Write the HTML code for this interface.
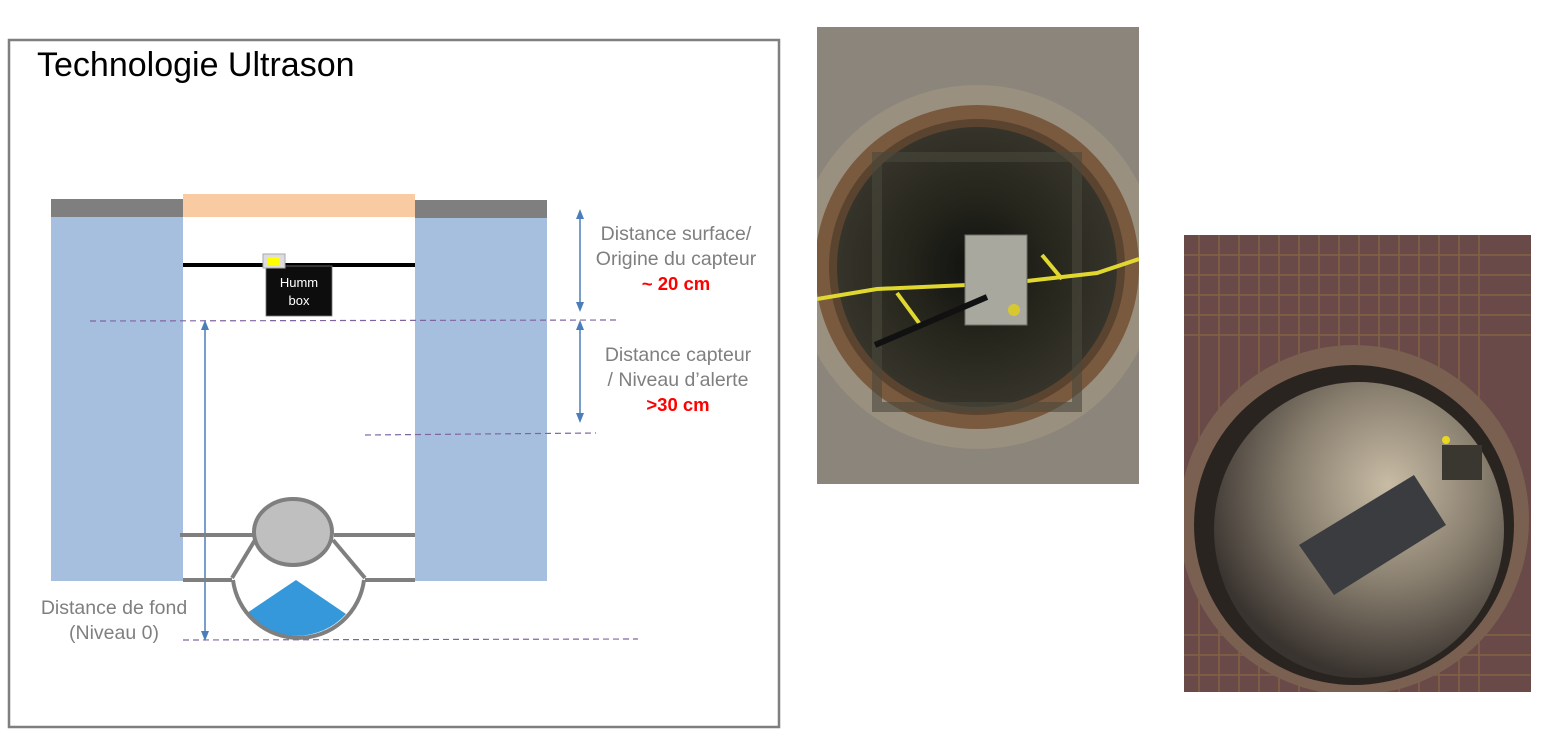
<!DOCTYPE html>
<html><head><meta charset="utf-8"><style>
html,body{margin:0;padding:0;background:#fff;width:1546px;height:744px;overflow:hidden}
svg{display:block}
text{font-family:"Liberation Sans",sans-serif}
</style></head><body>
<svg width="1546" height="744" viewBox="0 0 1546 744" xmlns="http://www.w3.org/2000/svg">
<defs>
<radialGradient id="hole1" cx="0.5" cy="0.5" r="0.5">
<stop offset="0" stop-color="#101010"/><stop offset="0.5" stop-color="#25251c"/><stop offset="1" stop-color="#36342a"/>
</radialGradient>
<radialGradient id="hole2" cx="0.6" cy="0.35" r="0.65">
<stop offset="0" stop-color="#c8bca5"/><stop offset="0.5" stop-color="#8a8070"/><stop offset="1" stop-color="#3a3430"/>
</radialGradient>
<marker id="ah" markerWidth="10" markerHeight="10" refX="5" refY="5" orient="auto-start-reverse" markerUnits="userSpaceOnUse"><path d="M0,1 L10,5 L0,9 z" fill="#4a7ebb"/></marker>
</defs>
<rect x="9" y="40" width="770" height="687" fill="#fff" stroke="#7f7f7f" stroke-width="2.5"/>
<text x="37" y="76" font-size="34" fill="#000">Technologie Ultrason</text>
<rect x="51" y="217" width="132" height="364" fill="#a7bfdf"/>
<rect x="415" y="217" width="132" height="364" fill="#a7bfdf"/>
<rect x="51" y="199" width="132" height="18" fill="#7f7f7f"/>
<rect x="415" y="200" width="132" height="18" fill="#7f7f7f"/>
<rect x="183" y="194" width="232" height="23" fill="#f9cba3"/>
<rect x="183" y="263" width="232" height="4" fill="#000"/>
<rect x="266" y="266" width="66" height="50" fill="#0d0d0d" stroke="#777" stroke-width="0.8"/>
<rect x="263" y="254" width="22" height="14" fill="#ddd" stroke="#aaa"/>
<rect x="268" y="257" width="12" height="8" fill="#ffff00"/>
<text x="299" y="287" font-size="13" fill="#fff" text-anchor="middle">Humm</text>
<text x="299" y="305" font-size="13" fill="#fff" text-anchor="middle">box</text>
<g stroke="#8064a2" stroke-width="1.2" stroke-dasharray="6,4" fill="none">
<line x1="90" y1="321" x2="617" y2="320"/>
<line x1="365" y1="435" x2="596" y2="433"/>
<line x1="183" y1="640" x2="638" y2="639"/>
</g>
<g stroke="#4a7ebb" stroke-width="1.5">
<line x1="205" y1="325" x2="205" y2="636" marker-start="url(#ah)" marker-end="url(#ah)"/>
<line x1="580" y1="214" x2="580" y2="307" marker-start="url(#ah)" marker-end="url(#ah)"/>
<line x1="580" y1="325" x2="580" y2="418" marker-start="url(#ah)" marker-end="url(#ah)"/>
</g>
<g stroke="#7f7f7f" stroke-width="4" fill="none">
<line x1="180" y1="535" x2="255" y2="535"/>
<line x1="334" y1="535" x2="415" y2="535"/>
<line x1="183" y1="580" x2="232" y2="580"/>
<line x1="365" y1="580" x2="415" y2="580"/>
<line x1="255" y1="540" x2="232" y2="578"/>
<line x1="333" y1="540" x2="365" y2="578"/>
</g>
<path d="M233,580 A66,66 0 0 0 364,580 Z" fill="#fff"/>
<path d="M296,580 L247,613 A66,66 0 0 0 346,614 Z" fill="#3498db"/>
<path d="M233,580 A66,66 0 0 0 364,580" stroke="#7f7f7f" stroke-width="4" fill="none"/>
<ellipse cx="293" cy="532" rx="39" ry="33" fill="#bfbfbf" stroke="#7f7f7f" stroke-width="4"/>
<g font-size="19.5" fill="#7f7f7f" text-anchor="middle">
<text x="676" y="240">Distance surface/</text>
<text x="676" y="265">Origine du capteur</text>
<text x="678" y="361">Distance capteur</text>
<text x="678" y="386">/ Niveau d’alerte</text>
<text x="114" y="614">Distance de fond</text>
<text x="114" y="639">(Niveau 0)</text>
</g>
<g font-size="18.5" fill="#ff0000" font-weight="bold" text-anchor="middle">
<text x="676" y="290">~ 20 cm</text>
<text x="678" y="411">&gt;30 cm</text>
</g>
<svg x="817" y="27" width="322" height="457" viewBox="0 0 322 457">
<rect width="322" height="457" fill="#8c857b"/>
<circle cx="160" cy="240" r="182" fill="#9a9080"/>
<circle cx="160" cy="240" r="162" fill="#7a5a3e"/>
<circle cx="160" cy="240" r="148" fill="#5a4430"/>
<circle cx="160" cy="240" r="140" fill="url(#hole1)"/>
<rect x="60" y="130" width="200" height="250" fill="none" stroke="#4a483c" stroke-width="10" opacity="0.6"/>
<path d="M0,272 L60,262 L150,258 L210,254 L280,246 L322,232" stroke="#e0d830" stroke-width="4" fill="none"/>
<path d="M80,266 L105,300 M225,228 L245,252" stroke="#e0d830" stroke-width="4" fill="none"/>
<rect x="148" y="208" width="62" height="90" fill="#a8a89e" stroke="#707068"/>
<line x1="170" y1="270" x2="58" y2="318" stroke="#111" stroke-width="6"/>
<circle cx="197" cy="283" r="6" fill="#d8c830"/>
</svg>
<svg x="1184" y="235" width="347" height="457" viewBox="0 0 347 457">
<rect width="347" height="457" fill="#6a4a48"/>
<g stroke="#a08040" stroke-width="1.5" opacity="0.45">
<path d="M0,20 H347 M0,40 H347 M0,60 H347 M0,80 H347 M0,100 H347 M0,400 H347 M0,420 H347 M0,440 H347"/>
<path d="M15,0 V457 M35,0 V457 M55,0 V457 M75,0 V457 M95,0 V457 M115,0 V457 M135,0 V457 M155,0 V457 M175,0 V457 M195,0 V457 M215,0 V457 M235,0 V457 M255,0 V457 M275,0 V457 M295,0 V457"/>
</g>
<ellipse cx="170" cy="285" rx="175" ry="175" fill="#7a6050"/>
<ellipse cx="170" cy="290" rx="160" ry="160" fill="#2a2420"/>
<ellipse cx="175" cy="295" rx="145" ry="148" fill="url(#hole2)"/>
<path d="M115,310 L230,240 L262,290 L150,360 Z" fill="#3a3c40"/>
<rect x="258" y="210" width="40" height="35" fill="#3a3630"/>
<circle cx="262" cy="205" r="4" fill="#e8d820"/>
</svg>
</svg>
</body></html>
